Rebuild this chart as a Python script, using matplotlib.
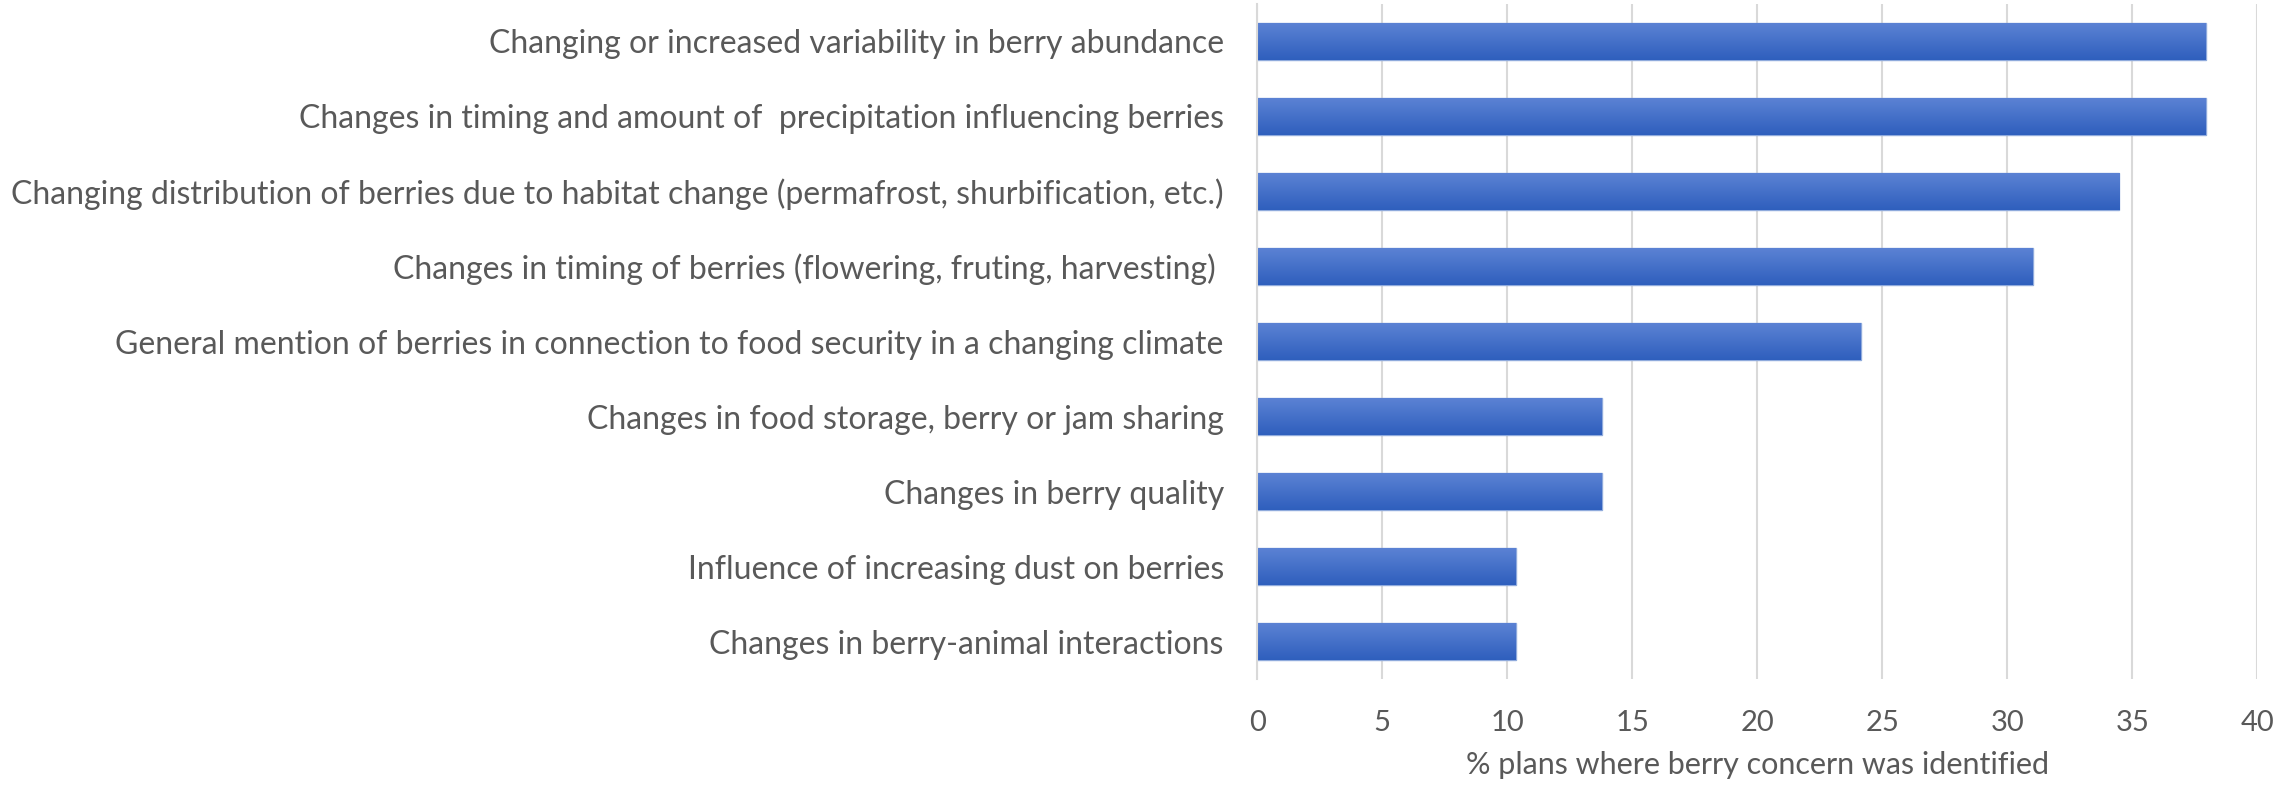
import matplotlib.pyplot as plt
import numpy as np
from matplotlib.colors import LinearSegmentedColormap

# Berry concerns, top to bottom, and share of plans (%) naming each one
concerns = [
    'Changing or increased variability in berry abundance',
    'Changes in timing and amount of  precipitation influencing berries',
    'Changing distribution of berries due to habitat change (permafrost, shurbification, etc.)',
    'Changes in timing of berries (flowering, fruting, harvesting) ',
    'General mention of berries in connection to food security in a changing climate',
    'Changes in food storage, berry or jam sharing',
    'Changes in berry quality',
    'Influence of increasing dust on berries',
    'Changes in berry-animal interactions',
]
percent = [37.93, 37.93, 34.48, 31.03, 24.14, 13.79, 13.79, 10.34, 10.34]
xticks = [0, 5, 10, 15, 20, 25, 30, 35, 40]

plt.rcParams['font.family'] = ['Lato', 'DejaVu Sans']
textcol = '#595959'

fig = plt.figure(figsize=(22.94, 7.88), dpi=100)
ax = fig.add_axes([0.548, 0.138, 0.436, 0.857])

y = np.arange(len(concerns))
bars = ax.barh(y, percent, height=0.49, color='#4472C4',
               edgecolor='#8faadc', linewidth=1.0, zorder=2)

# soft vertical shading on each bar
grad = LinearSegmentedColormap.from_list('bargrad', ['#5b82d4', '#2f5fbd'])
shade = np.linspace(0, 1, 64).reshape(-1, 1)
for b in bars:
    x0, y0 = b.get_x(), b.get_y()
    w, h = b.get_width(), b.get_height()
    im = ax.imshow(shade, cmap=grad, aspect='auto', zorder=2.5,
                   extent=(x0, x0 + w, y0 + h, y0), interpolation='bicubic')
    im.set_clip_path(b)

ax.set_ylim(len(concerns) - 0.5, -0.5)
ax.set_xlim(0, 40)
ax.set_xticks(xticks)
ax.set_yticks(y)
ax.set_yticklabels(concerns)

ax.grid(axis='x', color='#d9d9d9', linewidth=1.5, zorder=0)
ax.set_axisbelow(True)
for s in ['top', 'right', 'bottom']:
    ax.spines[s].set_visible(False)
ax.spines['left'].set_color('#d9d9d9')
ax.spines['left'].set_linewidth(1.5)

ax.tick_params(axis='y', length=0, pad=24, labelsize=23, labelcolor=textcol)
ax.tick_params(axis='x', length=0, pad=22, labelsize=21, labelcolor=textcol)
ax.set_xlabel('% plans where berry concern was identified', fontsize=22,
              color=textcol, labelpad=11)

fig.savefig('out.png', dpi=100)
